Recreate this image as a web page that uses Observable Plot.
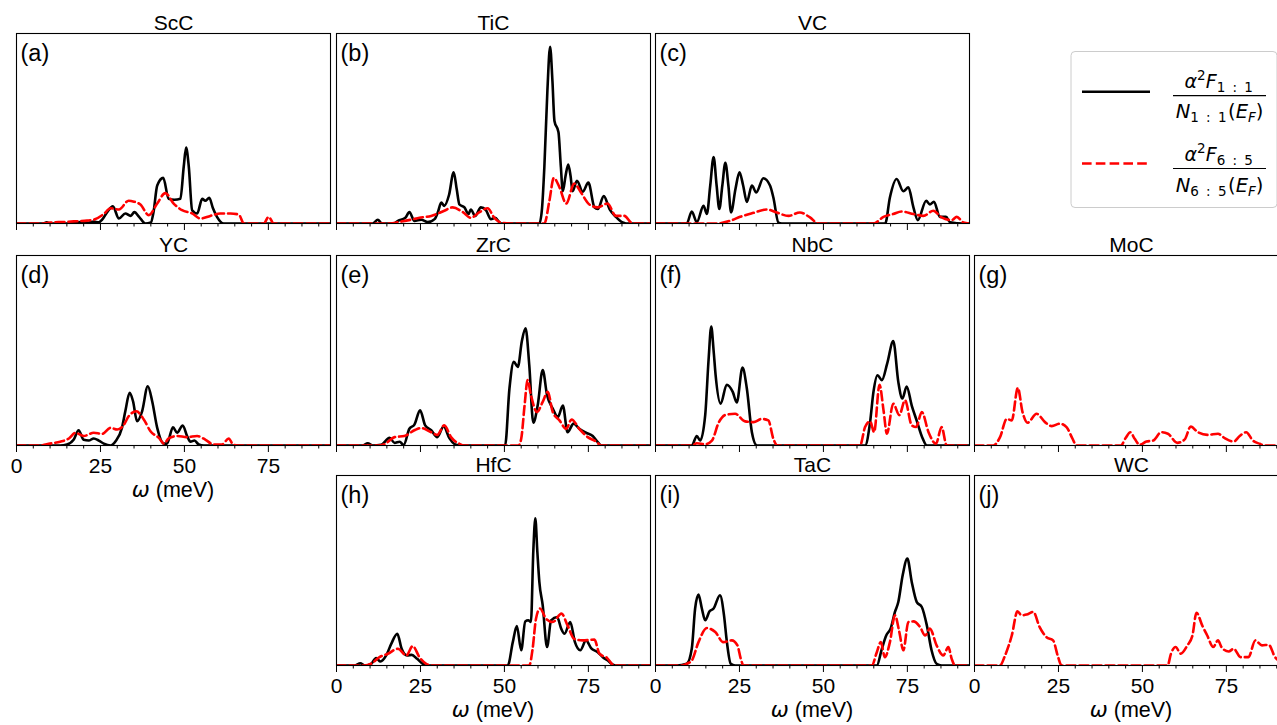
<!DOCTYPE html>
<html><head><meta charset="utf-8">
<script src="https://cdn.jsdelivr.net/npm/d3@7"></script>
<script src="https://cdn.jsdelivr.net/npm/@observablehq/plot@0.6"></script>
<style>
html,body{margin:0;padding:0;background:#fff;overflow:hidden;}
#fig{position:relative;width:1277px;height:725px;overflow:hidden;font-family:"Liberation Sans",Arial,sans-serif;}
.panel{position:absolute;}
.panel svg{max-width:none !important;}
#legend{position:absolute;left:0;top:0;pointer-events:none;}
</style></head><body><div id="fig"></div>
<script>
// ---- data: [omega (meV), alpha^2F / N(E_F) (arb. units)] ----
const ScC_11 = [[0,0],[8,0],[9,0.006],[10,0],[15,0],[17,0.005],[19,0.008],[21,0.004],[23,0.01],[24.5,0.006],[25.5,0.02],[27,0.06],[28.7,0.09],[30.5,0.026],[32.4,0.053],[34,0.04],[35.1,0.06],[36.5,0.035],[38.4,0],[40,0.005],[40.8,0.06],[41.9,0.2],[43.7,0.24],[45.3,0.13],[47,0.125],[48.8,0.13],[49.8,0.3],[50.5,0.40],[51.3,0.3],[52.3,0.07],[53.8,0.053],[55.3,0.13],[56.2,0.12],[57.4,0.135],[58.5,0.08],[59.7,0.035],[61.7,0],[93.5,0]];
const ScC_65 = [[0,0],[8,0],[10,0.005],[14,0.008],[18,0.012],[21,0.015],[23,0.02],[26,0.05],[28,0.08],[30.5,0.074],[33.4,0.12],[35,0.115],[36.9,0.10],[39.4,0.044],[41.9,0.105],[44.3,0.16],[46.8,0.105],[49.3,0.07],[52.3,0.053],[54.8,0.026],[57.7,0.04],[60.7,0.053],[63.7,0.053],[66.2,0.047],[67.7,0],[73.6,0],[75.1,0.035],[76.6,0],[93.5,0]];
const TiC_11 = [[0,0],[10.8,0],[12.3,0.02],[13.5,0],[17,0],[18.3,0.014],[20.5,0.03],[21.7,0.06],[23.2,0.014],[25.2,0.02],[27.2,0.007],[29.2,0.023],[30.2,0.06],[31.2,0.11],[32.1,0.093],[33.5,0.15],[34.9,0.27],[35.8,0.18],[36.6,0.1],[38.1,0.085],[39.3,0.05],[40,0.074],[41.3,0.04],[43,0.085],[44.5,0.07],[46,0.023],[47.2,0.03],[49,0],[60.4,0],[61.2,0.08],[61.9,0.3],[62.8,0.7],[63.6,0.93],[64.3,0.75],[64.9,0.54],[66.1,0.48],[66.8,0.3],[67.4,0.17],[68.2,0.25],[69,0.31],[69.7,0.25],[70.3,0.17],[71.6,0.225],[73.3,0.167],[75,0.215],[76.8,0.085],[77.8,0.076],[79.6,0.144],[81.3,0.076],[83.2,0.035],[85.2,0.005],[86.2,0],[93.5,0]];
const TiC_65 = [[0,0],[16,0],[18.3,0.007],[22.2,0.02],[24.7,0.03],[28.2,0.04],[32.1,0.067],[34.6,0.085],[37.6,0.06],[40,0.03],[42.6,0.06],[45,0.08],[47,0.03],[49,0.005],[52,0],[61.9,0],[63.4,0.12],[64.7,0.24],[66.4,0.19],[68.4,0.105],[70.8,0.21],[72.8,0.163],[75.3,0.1],[77.8,0.085],[80.7,0.105],[83.2,0.04],[85.7,0.04],[87.7,0.005],[88.5,0],[93.5,0]];
const VC_11 = [[0,0],[9.3,0],[10.8,0.063],[12.3,0.007],[14.3,0.093],[15.3,0.05],[16.3,0.2],[17.3,0.35],[18.2,0.2],[19,0.076],[19.9,0.2],[20.8,0.32],[21.7,0.2],[22.5,0.058],[23.8,0.18],[25,0.27],[26.1,0.2],[27.2,0.114],[28.7,0.2],[30,0.164],[32.1,0.238],[34.1,0.2],[35.1,0.137],[36.6,0.005],[37.6,0],[68.4,0],[69.8,0.137],[71.8,0.234],[73.8,0.17],[75.3,0.19],[76.8,0.085],[78.1,0.018],[80.6,0.12],[81.7,0.1],[82.9,0.114],[84.7,0.035],[86.5,0.035],[87.7,0.007],[91.7,0],[93.5,0]];
const VC_65 = [[0,0],[18.3,0],[22.2,0.014],[25.2,0.035],[29.2,0.056],[33.1,0.074],[36.1,0.058],[39.6,0.04],[43,0.058],[46,0.032],[48.5,0],[64.9,0],[67.9,0.035],[70.8,0.05],[73.3,0.063],[76.8,0.05],[79.8,0.04],[82.7,0.067],[85.2,0.032],[88.2,0.018],[89.7,0.035],[91.7,0.005],[93.5,0]];
const YC_11 = [[0,0],[13,0],[15,0.005],[17,0.03],[18.5,0.08],[20,0.03],[21.5,0.026],[23,0.037],[24.5,0.026],[26,0.01],[28,0],[29.5,0.023],[31.4,0.093],[32.4,0.18],[33.7,0.277],[34.7,0.233],[35.9,0.128],[37.4,0.18],[39.1,0.312],[40.4,0.233],[41.9,0.093],[43.9,0.01],[44.8,0.01],[46.6,0.096],[47.8,0.067],[49.5,0.105],[50.8,0.05],[51.8,0.02],[53,0.026],[54.3,0.005],[55.8,0],[93.5,0]];
const YC_65 = [[0,0],[7,0],[10,0.01],[13,0.02],[15.6,0.037],[17.6,0.067],[20,0.05],[23,0.067],[25.5,0.061],[28,0.093],[30,0.084],[31.9,0.107],[33.4,0.154],[35.7,0.18],[37.9,0.137],[39.9,0.075],[42.4,0.04],[43.9,0.01],[45.3,0.037],[47.8,0.05],[50.8,0.044],[53.8,0.05],[56.3,0.03],[58.7,0.005],[61.2,0.005],[63.2,0.037],[64.5,0.005],[65.7,0],[93.5,0]];
const ZrC_11 = [[0,0],[7.8,0],[9.3,0.012],[10.8,0],[13.3,0.004],[15.8,0.04],[17.3,0.014],[18.8,0.02],[20,0.003],[21.7,0.088],[23.2,0.11],[24.9,0.185],[26.4,0.106],[28.2,0.08],[30,0.044],[31.9,0.1],[33.6,0.039],[35.6,0.004],[37.1,0],[50.2,0],[51.5,0.3],[52.8,0.44],[54,0.414],[55.2,0.55],[56.3,0.617],[57.4,0.423],[58.6,0.12],[59.9,0.21],[61.4,0.397],[62.7,0.265],[64.4,0.194],[65.9,0.15],[67.4,0.21],[68.8,0.07],[70.6,0.115],[72.3,0.088],[74.3,0.067],[76.3,0.05],[77.8,0.018],[78.8,0],[93.5,0]];
const ZrC_65 = [[0,0],[12.3,0],[14.3,0.007],[17.3,0.044],[20.2,0.05],[23.2,0.08],[25.2,0.092],[28.2,0.07],[30,0.056],[32.1,0.106],[34.1,0.044],[36.6,0.009],[38.1,0],[54.2,0],[55,0.035],[56,0.21],[56.9,0.344],[57.9,0.265],[59.7,0.176],[61.4,0.23],[62.9,0.282],[64.4,0.176],[66.4,0.132],[68.4,0.088],[70,0.137],[72.3,0.088],[74.8,0.044],[77.3,0.021],[78.8,0],[93.5,0]];
const NbC_11 = [[0,0],[10.8,0],[12.3,0.05],[13.3,0.026],[14.8,0.16],[15.8,0.45],[16.6,0.626],[17.3,0.5],[17.9,0.37],[19.4,0.22],[21.2,0.32],[23,0.282],[24.2,0.226],[25.9,0.41],[27.2,0.3],[28.7,0.07],[30.2,0],[62.4,0],[63.9,0.123],[64.9,0.282],[66.1,0.37],[67.4,0.344],[69,0.432],[70.8,0.55],[72.3,0.335],[73.5,0.247],[74.8,0.31],[76.3,0.21],[77.8,0.13],[79.4,0.044],[80.8,0],[93.5,0]];
const NbC_65 = [[0,0],[11,0],[12.3,0.012],[14.8,0.007],[16.8,0.026],[18.8,0.12],[20.7,0.16],[23.7,0.167],[26.7,0.127],[29.2,0.123],[31.6,0.14],[33.6,0.132],[35.1,0.035],[36.3,0],[60.9,0],[62.4,0.097],[63.9,0.127],[65.1,0.07],[66.7,0.32],[67.9,0.185],[68.9,0.062],[70.8,0.22],[72.6,0.16],[74.3,0.238],[76.3,0.106],[77.6,0.097],[79.3,0.176],[81.3,0.07],[83.5,0.009],[85.2,0.097],[86.7,0],[93.5,0]];
const MoC_65 = [[0,0],[5.6,0],[7.6,0.044],[9.6,0.14],[11.1,0.132],[12.9,0.303],[14.3,0.176],[15.8,0.12],[18.5,0.167],[21,0.123],[23,0.102],[25.4,0.115],[27.4,0.097],[29.1,0.039],[30.4,0],[43.6,0],[45,0.039],[46.4,0.07],[47.7,0.035],[49.2,0.004],[51.2,0.021],[53.2,0.026],[55.6,0.07],[57.6,0.062],[60.4,0.014],[62.6,0.032],[64.4,0.1],[66.5,0.07],[69.5,0.056],[72.5,0.062],[74.5,0.039],[77.2,0.021],[78.9,0.049],[80.9,0.07],[82.9,0.026],[84.9,0.009],[86.3,0],[93.5,0]];
const HfC_11 = [[0,0],[5.4,0],[7.1,0.012],[8.3,0],[10.3,0.009],[11.8,0.039],[13.1,0.021],[14.8,0.053],[16.3,0.114],[18.1,0.167],[19.4,0.088],[21,0.053],[22.4,0.056],[24,0.035],[25.7,0.009],[27.2,0],[51,0],[52.5,0.123],[53.7,0.208],[55,0.08],[56.2,0.232],[57.1,0.238],[57.9,0.229],[58.6,0.6],[59.2,0.775],[59.8,0.6],[60.4,0.44],[61.4,0.317],[62.7,0.097],[63.9,0.238],[65.7,0.255],[66.9,0.194],[67.9,0.167],[69.6,0.229],[71,0.123],[72.6,0.08],[74.3,0.132],[75.8,0.092],[77.8,0.07],[79.3,0.044],[80.8,0.026],[82.3,0.004],[83.2,0],[93.5,0]];
const HfC_65 = [[0,0],[8.3,0],[10.3,0.009],[12.8,0.044],[15.3,0.062],[18.3,0.088],[20.8,0.053],[22.7,0.102],[24.7,0.044],[26.7,0.009],[28.2,0],[57.4,0],[58.4,0.088],[59.4,0.246],[60.6,0.3],[62.4,0.246],[64.4,0.229],[67,0.273],[68.8,0.211],[70.8,0.14],[73.3,0.132],[76.8,0.136],[78.3,0.062],[80.6,0.039],[82.3,0.004],[83.2,0],[93.5,0]];
const TaC_11 = [[0,0],[6.3,0],[9.3,0.009],[10.8,0.088],[11.8,0.3],[12.8,0.373],[13.8,0.3],[14.8,0.238],[16.1,0.285],[17.3,0.3],[19.2,0.37],[20.4,0.264],[21.2,0.132],[22.4,0.009],[23.7,0],[65.9,0],[67.4,0.088],[68.7,0.158],[70,0.194],[71.3,0.282],[72.3,0.334],[73.6,0.475],[75,0.563],[76.3,0.44],[77.8,0.334],[79.3,0.308],[80.8,0.211],[82.2,0.08],[83.7,0.009],[85.2,0],[93.5,0]];
const TaC_65 = [[0,0],[8,0],[9.3,0.009],[10.8,0.026],[12.8,0.123],[15.3,0.197],[17.8,0.176],[20.2,0.123],[22.7,0.132],[24.4,0.106],[25.4,0.035],[26.2,0],[64.4,0],[65.9,0.07],[67.1,0.123],[68.3,0.044],[69.8,0.123],[71.3,0.264],[72.6,0.176],[73.8,0.08],[75.3,0.229],[76.8,0.232],[78.8,0.202],[80.3,0.158],[81.7,0.194],[83.7,0.106],[85.7,0.053],[87.2,0.097],[88.2,0.035],[89.2,0],[93.5,0]];
const WC_65 = [[0,0],[7.6,0],[9.1,0.053],[11.1,0.158],[12.8,0.285],[14,0.264],[15.5,0.268],[17.5,0.282],[19.4,0.202],[21.4,0.15],[23.4,0.132],[24.9,0.044],[25.9,0],[57.5,0],[58.5,0.062],[59.9,0.097],[61.4,0.062],[63.4,0.106],[64.9,0.158],[66.1,0.278],[67.8,0.211],[69.3,0.158],[71.1,0.097],[72.5,0.132],[73.7,0.092],[75.7,0.074],[77.2,0.088],[79.2,0.044],[81.6,0.044],[83.6,0.132],[85.6,0.106],[87.6,0.109],[89.5,0.044],[91,0.02],[93.5,0]];

const materials = ["ScC","TiC","VC","YC","ZrC","NbC","MoC","HfC","TaC","WC"];
const panelTags = ["(a)","(b)","(c)","(d)","(e)","(f)","(g)","(h)","(i)","(j)"];
const series11 = [ScC_11, TiC_11, VC_11, YC_11, ZrC_11, NbC_11, null, HfC_11, TaC_11, null];
const series65 = [ScC_65, TiC_65, VC_65, YC_65, ZrC_65, NbC_65, MoC_65, HfC_65, TaC_65, WC_65];
const majorTicks = [0, 25, 50, 75];
const minorTicks = [5,10,15,20,30,35,40,45,55,60,65,70,80,85,90];
const xDomain = [0, 93.5];
const xLabel = ["ω", " (meV)"];
const legendNum = [["α","2","F","1 : 1"],["α","2","F","6 : 5"]];
const legendDen = [["N","1 : 1","E","F"],["N","6 : 5","E","F"]];
const seriesColors = ["black","red"];

// ---- layout ----
const colLeft = [16, 336, 655, 974];
const rowTop = [33, 255, 475];
const grid = [[0,0],[0,1],[0,2],[1,0],[1,1],[1,2],[1,3],[2,1],[2,2],[2,3]];
const labeledPanels = new Set(["YC","HfC","TaC","WC"]);
const FW = 314, FH = 190, ML = 14, MR = 14, MT = 40;
const fig = document.getElementById("fig");

materials.forEach((name, i) => {
  const [r, c] = grid[i];
  const labeled = labeledPanels.has(name);
  const MB = labeled ? 62 : 12;
  const marks = [];
  const s11 = series11[i], s65 = series65[i];
  if (s11) marks.push(Plot.line(s11, {x: d => d[0], y: d => d[1], stroke: seriesColors[0], strokeWidth: 2.6, curve: "monotone-x", clip: true}));
  if (s65) marks.push(Plot.line(s65, {x: d => d[0], y: d => d[1], stroke: seriesColors[1], strokeWidth: 2.6, strokeDasharray: "9,4", curve: "monotone-x", clip: true}));
  marks.push(Plot.frame({stroke: "black", strokeWidth: 1.1}));
  marks.push(Plot.axisX({ticks: minorTicks, tickSize: 3.5, tickFormat: () => "", label: null, strokeWidth: 1}));
  marks.push(Plot.axisX({ticks: majorTicks, tickSize: 7, tickPadding: 6, tickFormat: labeled ? (d => String(d)) : (() => ""), label: null, fontSize: 21, strokeWidth: 1}));
  marks.push(Plot.text([name], {text: d => d, frameAnchor: "top", lineAnchor: "top", dy: -18.5, fontSize: 21, fill: "black"}));
  marks.push(Plot.text([panelTags[i]], {text: d => d, frameAnchor: "top-left", textAnchor: "start", lineAnchor: "top", dx: 4, dy: 11, fontSize: 23.5, fill: "black"}));
  const W = FW + ML + MR, H = MT + FH + MB;
  const chart = Plot.plot({
    width: W, height: H,
    marginLeft: ML, marginRight: MR, marginTop: MT, marginBottom: MB,
    x: {domain: xDomain},
    y: {domain: [0, 1], axis: null},
    style: {fontFamily: "Liberation Sans, Arial, sans-serif", fontSize: "21px", background: "transparent", color: "black", overflow: "visible", maxWidth: "none"},
    marks
  });
  if (labeled) {
    const t = d3.select(chart).append("text")
      .attr("x", ML + FW / 2).attr("y", MT + FH + 52)
      .attr("text-anchor", "middle").attr("font-size", 21.5)
      .attr("font-family", "Liberation Sans, Arial, sans-serif").attr("fill", "black");
    t.append("tspan").attr("font-family", "DejaVu Sans").attr("font-style", "italic").text(xLabel[0]);
    t.append("tspan").text(xLabel[1]);
  }
  const div = document.createElement("div");
  div.className = "panel";
  div.style.left = (colLeft[c] - ML) + "px";
  div.style.top = (rowTop[r] - MT) + "px";
  div.style.width = W + "px";
  div.style.height = H + "px";
  div.appendChild(chart);
  fig.appendChild(div);
});

// ---- legend ----
const lg = d3.select(fig).append("svg").attr("id", "legend").attr("width", 1277).attr("height", 725);
lg.append("rect").attr("x", 1071).attr("y", 51.5).attr("width", 206).attr("height", 156).attr("rx", 4)
  .attr("fill", "white").attr("stroke", "#cccccc").attr("stroke-width", 1);
const rows = [{ly: 91.7, num: 87.7, bar: 95.7, den: 118}, {ly: 163.5, num: 160.5, bar: 168.5, den: 191.5}];
rows.forEach((rw, k) => {
  const line = lg.append("line").attr("x1", 1082).attr("x2", 1150).attr("y1", rw.ly).attr("y2", rw.ly)
    .attr("stroke", seriesColors[k]).attr("stroke-width", 2.6);
  if (k === 1) line.attr("stroke-dasharray", "9.6,4.2");
  const cx = 1219.5;
  const n = legendNum[k], dd = legendDen[k];
  const tn = lg.append("text").attr("x", cx).attr("y", rw.num).attr("text-anchor", "middle")
    .attr("font-family", "DejaVu Sans").attr("font-size", 19).attr("fill", "black");
  tn.append("tspan").attr("font-style", "italic").text(n[0]);
  tn.append("tspan").attr("font-size", 13.5).attr("dy", -8).text(n[1]);
  tn.append("tspan").attr("font-style", "italic").attr("dy", 8).text(n[2]);
  tn.append("tspan").attr("font-size", 13.5).attr("dy", 4).attr("letter-spacing", 1.5).text(n[3]);
  lg.append("line").attr("x1", 1173).attr("x2", 1266).attr("y1", rw.bar).attr("y2", rw.bar)
    .attr("stroke", "black").attr("stroke-width", 1.2);
  const td = lg.append("text").attr("x", cx).attr("y", rw.den).attr("text-anchor", "middle")
    .attr("font-family", "DejaVu Sans").attr("font-size", 19.5).attr("fill", "black");
  td.append("tspan").attr("font-style", "italic").text(dd[0]);
  td.append("tspan").attr("font-size", 13.5).attr("dy", 4).attr("letter-spacing", 1.5).text(dd[1]);
  td.append("tspan").attr("dy", -4).text("(");
  td.append("tspan").attr("font-style", "italic").text(dd[2]);
  td.append("tspan").attr("font-style", "italic").attr("font-size", 13.5).attr("dy", 4).text(dd[3]);
  td.append("tspan").attr("dy", -4).text(")");
});
</script>
</body></html>
